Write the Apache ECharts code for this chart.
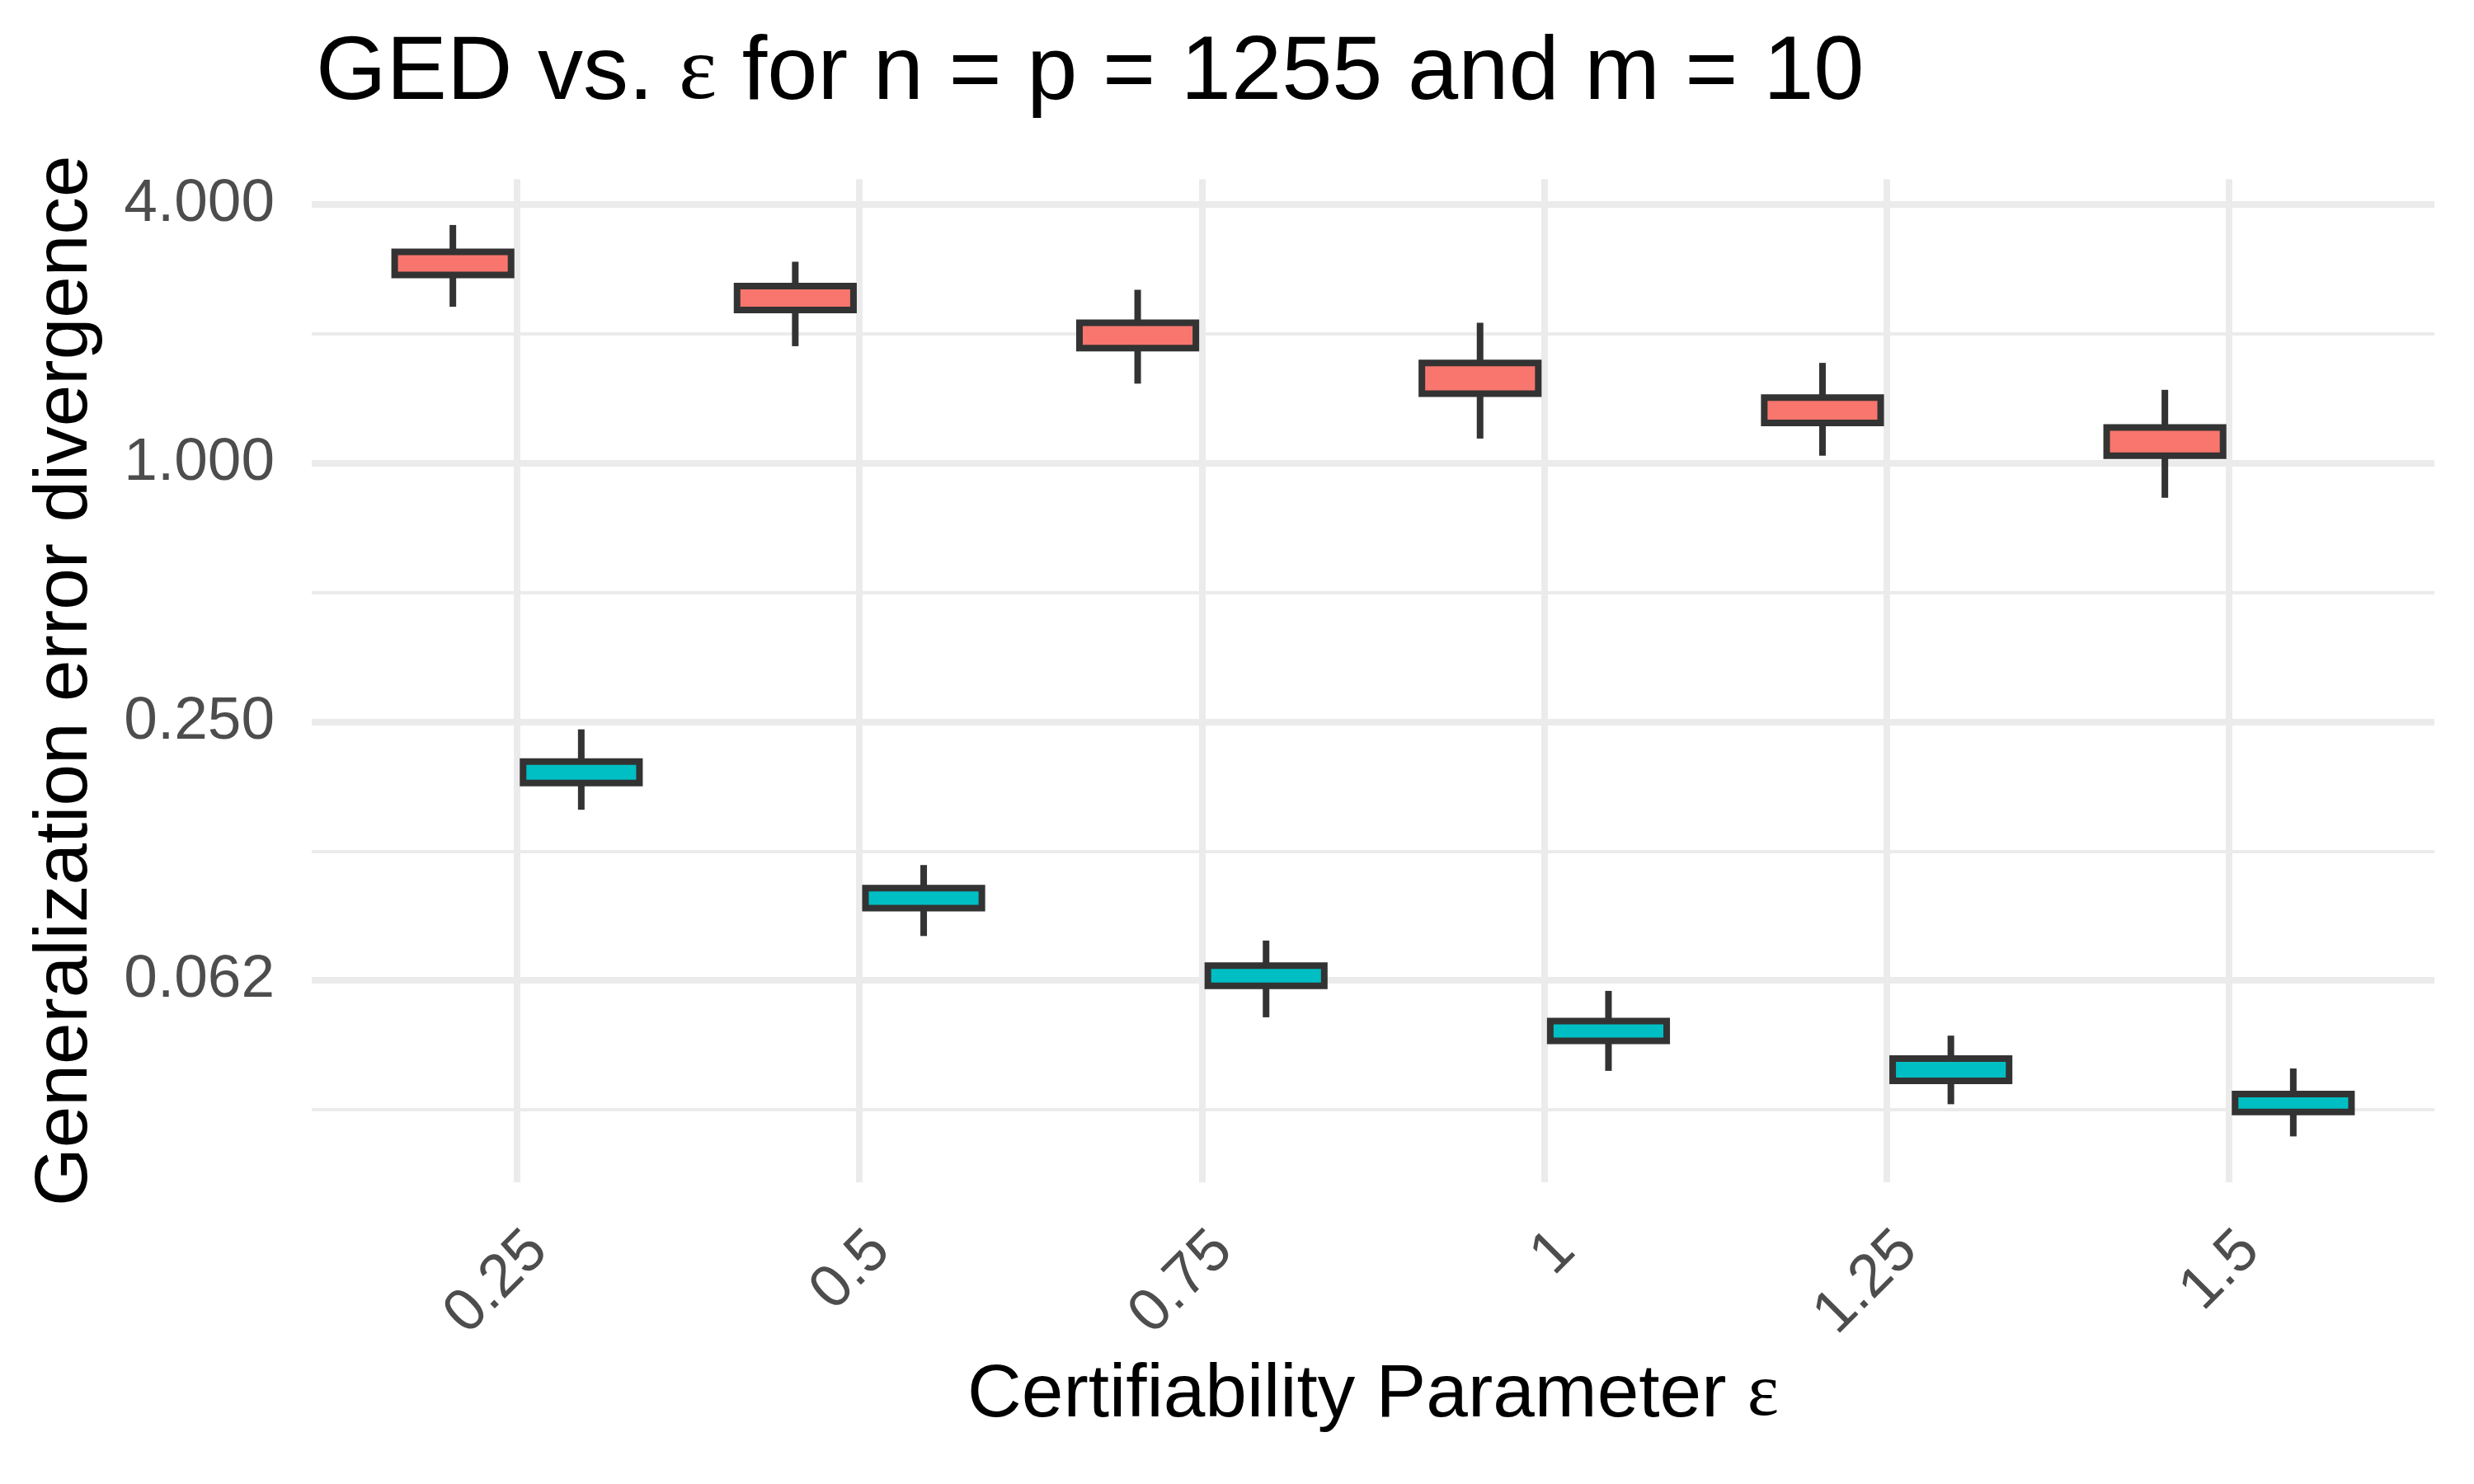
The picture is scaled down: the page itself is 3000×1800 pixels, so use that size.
<!DOCTYPE html>
<html>
<head>
<meta charset="utf-8">
<script src="https://cdn.jsdelivr.net/npm/echarts@6/dist/echarts.min.js"></script>
<style>
html,body{margin:0;padding:0;background:#fff;}
#chart{width:3000px;height:1800px;}
</style>
</head>
<body>
<div id="chart"></div>
<script>
// ---- data ----
const categories = ['0.25', '0.5', '0.75', '1', '1.25', '1.5'];
// red group (upper)
const redLow  = [2.31, 1.87, 1.53, 1.14, 1.04, 0.83];
const redQ1   = [2.74, 2.27, 1.85, 1.45, 1.24, 1.04];
const redQ3   = [3.10, 2.58, 2.12, 1.71, 1.42, 1.21];
const redHigh = [3.58, 2.94, 2.53, 2.12, 1.71, 1.48];
// teal group (lower)
const tealLow  = [0.156, 0.0793, 0.0513, 0.0385, 0.0322, 0.0271];
const tealQ1   = [0.180, 0.0921, 0.0607, 0.0452, 0.0365, 0.0309];
const tealQ3   = [0.202, 0.1025, 0.0677, 0.0503, 0.0411, 0.0340];
const tealHigh = [0.240, 0.116, 0.0774, 0.0591, 0.0465, 0.0390];
// y axis ticks
const yTickValues = [0.0625, 0.25, 1, 4];
const yTickLabels = ['0.062', '0.250', '1.000', '4.000'];
const yMinorValues = [0.03125, 0.125, 0.5, 2];

// ---- layout / style ----
const Y_MIN = Math.pow(2, -5.56);
const Y_MAX = Math.pow(2, 2.193);
const FONT = 'Liberation Sans';
const GRID_COL = '#EBEBEB';
const BOX_FRAC = 0.34;     // box width as fraction of category spacing
const DODGE = 0.1875;      // centre offset as fraction of category spacing

function rows(low, q1, q3, high) {
  return categories.map((c, i) => [i, low[i], q1[i], q3[i], high[i]]);
}

function makeRender(offsetFrac, fill) {
  return function (params, api) {
    const idx = api.value(0);
    const band = api.size([1, 0])[0];
    const pLow = api.coord([idx, api.value(1)]);
    const pQ1 = api.coord([idx, api.value(2)]);
    const pQ3 = api.coord([idx, api.value(3)]);
    const pHigh = api.coord([idx, api.value(4)]);
    const cx = pLow[0] + offsetFrac * band;
    const hw = BOX_FRAC * band / 2;
    const ln = { stroke: '#333333', lineWidth: 8 };
    return {
      type: 'group',
      children: [
        { type: 'line', shape: { x1: cx, y1: pHigh[1], x2: cx, y2: pQ3[1] }, style: ln },
        { type: 'line', shape: { x1: cx, y1: pQ1[1], x2: cx, y2: pLow[1] }, style: ln },
        { type: 'rect', shape: { x: cx - hw, y: pQ3[1], width: 2 * hw, height: pQ1[1] - pQ3[1] },
          style: { fill: fill, stroke: '#333333', lineWidth: 8 } }
      ]
    };
  };
}

function yLabel(v) {
  const i = yTickValues.findIndex(t => Math.abs(Math.log2(t) - Math.log2(v)) < 1e-6);
  return i >= 0 ? yTickLabels[i] : '';
}

const chart = echarts.init(document.getElementById('chart'), null, { renderer: 'canvas' });
chart.setOption({
  backgroundColor: '#ffffff',
  animation: false,
  title: {
    text: 'GED vs. {e|ε} for n = p = 1255 and m = 10',
    left: 378,
    top: 30,
    textStyle: {
      fontFamily: FONT, fontSize: 110, fontWeight: 'normal', color: '#000000',
      rich: { e: { fontFamily: 'Liberation Serif', fontSize: 110, color: '#000000' } }
    }
  },
  grid: [
    { left: 378, right: 48, top: 217.5, bottom: 366, containLabel: false },
    { left: 627, right: 297, top: 217.5, bottom: 366, containLabel: false }
  ],
  xAxis: [
    { gridIndex: 0, type: 'category', data: categories, show: false },
    {
      gridIndex: 1, type: 'category', data: categories, boundaryGap: false,
      axisLine: { show: false }, axisTick: { show: false },
      splitLine: { show: true, lineStyle: { color: GRID_COL, width: 8 } },
      axisLabel: {
        interval: 0, rotate: 45, margin: 46, align: 'right', verticalAlign: 'top',
        fontFamily: FONT, fontSize: 73, color: '#4D4D4D'
      },
      name: 'Certifiability Parameter {e|ε}',
      nameLocation: 'middle',
      nameGap: 213,
      nameTextStyle: {
        fontFamily: FONT, fontSize: 91, color: '#000000',
        rich: { e: { fontFamily: 'Liberation Serif', fontSize: 91, color: '#000000' } }
      }
    }
  ],
  yAxis: [
    {
      gridIndex: 0, type: 'log', logBase: 2, min: Y_MIN, max: Y_MAX,
      axisLine: { show: false },
      axisTick: { show: false, customValues: yTickValues },
      axisLabel: {
        customValues: yTickValues, formatter: yLabel, margin: 45,
        fontFamily: FONT, fontSize: 73, color: '#4D4D4D'
      },
      splitLine: { show: true, lineStyle: { color: GRID_COL, width: 8 } },
      name: 'Generalization error divergence',
      nameLocation: 'middle',
      nameGap: 253,
      nameTextStyle: { fontFamily: FONT, fontSize: 91, color: '#000000' }
    },
    {
      gridIndex: 0, type: 'log', logBase: 2, min: Y_MIN, max: Y_MAX,
      axisLine: { show: false },
      axisTick: { show: false, customValues: yMinorValues },
      axisLabel: { show: false, customValues: yMinorValues },
      splitLine: { show: true, lineStyle: { color: GRID_COL, width: 4 } }
    },
    {
      gridIndex: 1, type: 'log', logBase: 2, min: Y_MIN, max: Y_MAX, show: false
    }
  ],
  series: [
    {
      type: 'custom', name: 'red', xAxisIndex: 1, yAxisIndex: 2,
      renderItem: makeRender(-DODGE, '#F8766D'),
      encode: { x: 0, y: [1, 2, 3, 4] },
      data: rows(redLow, redQ1, redQ3, redHigh)
    },
    {
      type: 'custom', name: 'teal', xAxisIndex: 1, yAxisIndex: 2,
      renderItem: makeRender(DODGE, '#00BFC4'),
      encode: { x: 0, y: [1, 2, 3, 4] },
      data: rows(tealLow, tealQ1, tealQ3, tealHigh)
    }
  ]
});
</script>
</body>
</html>
